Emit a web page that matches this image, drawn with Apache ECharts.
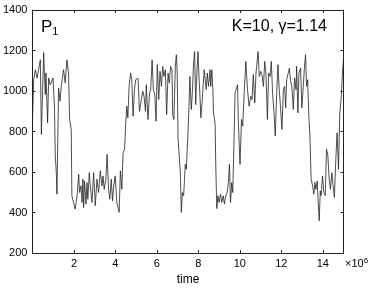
<!DOCTYPE html>
<html>
<head>
<meta charset="utf-8">
<script src="https://cdn.jsdelivr.net/npm/echarts@6/dist/echarts.min.js"></script>
<style>
html,body{margin:0;padding:0;background:#fff;}
#c{width:374px;height:291px;}
</style>
</head>
<body>
<div id="c"></div>
<script>
// time in units of 1e6
var xTicks = [2, 4, 6, 8, 10, 12, 14];
var yTicks = [200, 400, 600, 800, 1000, 1200, 1400];
var seriesName = 'P1';
var panelLabel = 'K=10, γ=1.14';
var p1Series = [
[0,851],[0.06,1056],[0.14,1105],[0.22,1064],[0.30,1056],[0.38,1154],[0.43,786],[0.54,1190],[0.62,982],[0.65,1089],
[0.73,843],[0.78,1064],[0.86,1031],[0.94,1040],[0.99,1064],[1.06,925],[1.10,679],[1.15,597],[1.18,491],[1.26,1015],
[1.33,950],[1.39,1023],[1.50,1105],[1.58,1040],[1.66,1154],[1.74,1089],[1.79,860],[1.87,810],[1.90,483],[1.98,450],
[2.06,417],[2.15,483],[2.23,589],[2.27,499],[2.34,532],[2.39,450],[2.43,565],[2.47,425],[2.51,556],[2.58,442],
[2.63,548],[2.67,466],[2.74,597],[2.79,532],[2.87,450],[2.95,597],[3.03,434],[3.11,565],[3.19,499],[3.27,606],
[3.35,532],[3.40,581],[3.46,515],[3.54,565],[3.60,688],[3.67,515],[3.73,466],[3.80,565],[3.86,458],[3.92,532],
[3.99,581],[4.07,450],[4.12,442],[4.18,401],[4.24,606],[4.31,515],[4.37,696],[4.44,712],[4.50,843],[4.55,925],
[4.60,868],[4.66,1023],[4.73,1089],[4.79,1056],[4.85,876],[4.92,1007],[4.98,1056],
[5.01,1064],[5.09,1064],[5.16,900],[5.25,958],[5.32,999],[5.38,974],[5.45,900],[5.49,1031],[5.57,860],[5.65,991],
[5.70,1007],[5.77,1154],[5.83,1007],[5.90,982],[5.96,851],[6.02,1130],[6.09,958],[6.15,1097],[6.22,1023],[6.28,1122],
[6.34,1072],[6.41,1105],[6.47,884],[6.54,1089],[6.60,1040],[6.66,1122],[6.73,1105],[6.76,884],[6.82,860],[6.89,1122],
[6.94,1179],[6.98,1089],[7.02,769],[7.08,769],[7.13,597],[7.18,401],[7.23,499],[7.29,483],[7.37,638],[7.42,614],
[7.50,794],[7.55,925],[7.59,1072],[7.66,909],[7.71,991],[7.77,1138],[7.82,1195],[7.87,933],[7.93,1089],[7.98,1195],
[8.03,1072],[8.07,991],[8.12,868],[8.19,958],[8.23,950],[8.28,1105],[8.33,1056],[8.38,1007],[8.43,1089],[8.49,1023],
[8.56,1105],[8.60,1023],[8.65,1105],[8.70,1007],[8.73,892],[8.78,860],[8.81,835],[8.84,630],[8.89,420],[8.94,483],
[9.00,450],[9.07,491],[9.13,450],[9.20,483],[9.26,442],[9.32,483],[9.39,499],[9.45,548],[9.50,638],[9.55,450],
[9.61,548],[9.66,499],[9.71,712],[9.77,991],[9.82,1007],
[9.89,1031],[9.93,843],[10.01,638],[10.08,860],[10.14,827],[10.21,991],[10.29,1146],[10.37,1007],[10.45,925],[10.53,974],
[10.59,958],[10.65,1081],[10.72,941],[10.78,1089],[10.88,1195],[10.94,1072],[11.01,1097],[11.07,1081],[11.14,1023],[11.20,1146],
[11.26,1089],[11.33,860],[11.39,1089],[11.46,1072],[11.52,1146],[11.58,991],[11.65,892],[11.71,778],[11.78,991],[11.84,1130],
[11.90,1007],[11.97,909],[12.03,810],[12.10,1007],[12.16,1023],[12.21,917],[12.26,1056],[12.32,1064],[12.39,1113],[12.45,1048],
[12.51,1023],[12.58,909],[12.64,1064],[12.71,1007],[12.74,1122],[12.80,892],[12.85,1089],[12.93,1113],[12.99,917],[13.06,1023],
[13.12,1122],[13.17,1179],[13.22,1023],[13.27,1056],[13.33,876],[13.38,778],[13.44,565],[13.51,532],[13.57,491],[13.62,548],
[13.67,515],[13.73,556],[13.78,450],[13.83,360],[13.88,507],[13.92,483],[13.99,581],[14.05,499],[14.12,483],[14.18,712],
[14.24,688],[14.31,565],[14.37,515],[14.44,597],[14.50,532],[14.56,475],[14.63,663],[14.69,794],[14.76,614],[14.82,892],
[14.89,966],[14.95,1089],[15.00,1160]
];

var FONT = "'Liberation Sans', Arial, Helvetica, sans-serif";
var AX = '#222';
var chart = echarts.init(document.getElementById('c'), null, {renderer: 'canvas'});
function xLab(v){ return xTicks.indexOf(Math.round(v*1000)/1000) >= 0 ? String(v) : ''; }
var baseX = {
  type: 'value', min: 0, max: 15, interval: 2,
  axisLine: {show: true, onZero: false, lineStyle: {color: AX, width: 1}},
  axisTick: {show: true, inside: true, length: 3, lineStyle: {color: AX}},
  splitLine: {show: false}
};
var baseY = {
  type: 'value', min: 200, max: 1400, interval: 200,
  axisLine: {show: true, onZero: false, lineStyle: {color: AX, width: 1}},
  axisTick: {show: true, inside: true, length: 3, lineStyle: {color: AX}},
  splitLine: {show: false}
};
chart.setOption({
  animation: false,
  backgroundColor: '#fff',
  grid: {left: 30, right: 30.5, top: 10, bottom: 37, containLabel: false},
  xAxis: [
    Object.assign({}, baseX, {
      position: 'bottom',
      name: 'time', nameLocation: 'middle', nameGap: 19,
      nameTextStyle: {fontFamily: FONT, fontSize: 12, color: '#000'},
      axisLabel: {show: true, margin: 5, fontFamily: FONT, fontSize: 11, color: '#000', formatter: xLab, showMinLabel: true, showMaxLabel: true}
    }),
    Object.assign({}, baseX, {position: 'top', axisLabel: {show: false}})
  ],
  yAxis: [
    Object.assign({}, baseY, {
      position: 'left',
      axisLabel: {show: true, margin: 5, fontFamily: FONT, fontSize: 11, color: '#000',
        formatter: function(v){ return yTicks.indexOf(v) >= 0 ? String(v) : ''; }}
    }),
    Object.assign({}, baseY, {position: 'right', axisLabel: {show: false}})
  ],
  graphic: [
    {type: 'text', left: 41, top: 19, style: {
      text: '{p|P}{s|1}', fontFamily: FONT,
      rich: {p: {fontSize: 17, fontFamily: FONT, fill: '#000'}, s: {fontSize: 11, fontFamily: FONT, fill: '#000', padding: [9, 0, 0, 0]}}
    }},
    {type: 'text', right: 47, top: 19, style: {text: panelLabel, fontFamily: FONT, fontSize: 16, fill: '#000'}},
    {type: 'text', left: 345, top: 257, style: {
      text: '{a|×10}{b|6}', fontFamily: FONT,
      rich: {a: {fontSize: 11, fontFamily: FONT, fill: '#000', padding: [5, 0, 0, 0]}, b: {fontSize: 8, fontFamily: FONT, fill: '#000'}}
    }}
  ],
  series: [{
    name: seriesName,
    type: 'line',
    xAxisIndex: 0, yAxisIndex: 0,
    data: p1Series,
    showSymbol: false,
    symbol: 'none',
    lineStyle: {color: '#222', width: 0.8},
    z: 1
  }]
});
</script>
</body>
</html>
